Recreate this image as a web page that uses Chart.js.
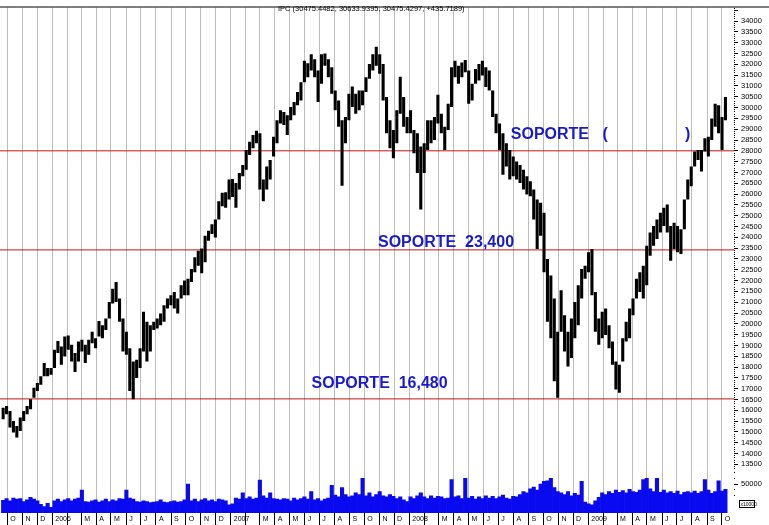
<!DOCTYPE html>
<html>
<head>
<meta charset="utf-8">
<script src="https://cdn.jsdelivr.net/npm/chart.js@4.4.1/dist/chart.umd.min.js"></script>
<style>
  html, body { margin: 0; padding: 0; background: #fff; }
  canvas { display: block; }
</style>
</head>
<body>
<canvas id="ipcChart" width="769" height="525"></canvas>
<script>
// weekly ranges of the IPC, week 0 = week of 19 Sep 2005
const weekHigh = [
  16120, 16200, 15970, 15510, 15280, 15670, 15970, 16200, 16510, 17040,
  17270, 17580, 18190, 17960, 17960, 18800, 19210, 18950, 19410, 19460,
  19030, 18650, 19180, 19260, 19030, 19260, 19640, 19330, 20130, 19940,
  20250, 21010, 21620, 21930, 21170, 20250, 19640, 18870, 18260, 18340,
  18870, 20560, 20100, 19940, 20100, 20250, 20480, 20860, 21170, 21320,
  21470, 21170, 21780, 22010, 22080, 22540, 23080, 23380, 23490, 24070,
  24300, 24600, 24830, 25670, 26060, 26090, 26670, 26700, 26510, 26970,
  27350, 28040, 28420, 28730, 28930, 28810, 26670, 27280, 27580, 28650,
  29420, 29880, 29800, 29650, 30030, 30260, 30720, 31170, 32170, 32050,
  32470, 32240, 31710, 32470, 32500, 32240, 31860, 30790, 30330, 29420,
  29570, 30640, 30980, 30640, 30790, 30790, 31400, 32020, 32470, 32810,
  32470, 32020, 30490, 29420, 28960, 29880, 31430, 30490, 29570, 29880,
  28960, 28810, 28200, 28350, 29420, 29420, 29570, 30590, 29720, 29110,
  30180, 31860, 32170, 31940, 32090, 32200, 31710, 31100, 31790, 32020,
  32170, 31860, 31710, 30790, 29720, 29260, 28810, 28350, 28040, 27740,
  27510, 27350, 27130, 26820, 26590, 26210, 25750, 25600, 25140, 23000,
  22240, 21170, 19640, 21550, 20400, 19640, 20250, 21010, 21780, 22540,
  22690, 23310, 23460, 21470, 20250, 20560, 20710, 19940, 19180, 18260,
  18110, 19330, 20100, 20710, 21170, 22080, 22390, 22690, 23610, 24220,
  24530, 24830, 25140, 25370, 25520, 24530, 24680, 24530, 24380, 25750,
  26670, 27280, 27970, 28040, 28040, 28580, 28650, 29490, 30180, 30110,
  29570, 30490
];
const weekLow = [
  15590, 15820, 15210, 14980, 14750, 15050, 15510, 15820, 16050, 16580,
  16890, 17190, 17580, 17580, 17650, 17960, 18650, 18110, 18490, 18800,
  18260, 17770, 18260, 18720, 18190, 18570, 19100, 18870, 19410, 19330,
  19720, 20250, 20940, 21010, 20100, 18720, 18570, 16890, 16510, 17500,
  17960, 18720, 18260, 18720, 19720, 19790, 19940, 20100, 20710, 20860,
  20710, 20480, 21170, 21320, 21320, 21930, 22390, 22690, 22340, 22850,
  23840, 24150, 23990, 24830, 25440, 25370, 25750, 25870, 25370, 26210,
  26820, 27130, 27810, 28120, 28350, 26210, 25670, 26210, 26670, 27740,
  28350, 29260, 29190, 28730, 29420, 29650, 30110, 30330, 31170, 31400,
  31710, 31400, 30260, 31100, 31940, 31400, 30640, 29880, 29110, 26390,
  28350, 29420, 30030, 29720, 29880, 30110, 30720, 31330, 31710, 31940,
  31560, 30330, 28810, 28120, 27660, 28350, 29720, 29110, 28810, 28810,
  27890, 26970, 25290, 26970, 28040, 28350, 28500, 29260, 28810, 28040,
  28960, 30030, 31400, 31100, 31400, 31630, 30180, 30330, 31100, 31250,
  31480, 30950, 30790, 29570, 28810, 28040, 26900, 27280, 26670, 26820,
  26670, 26510, 26210, 25980, 25900, 24830, 23460, 24070, 22390, 20100,
  19330, 17350, 16580, 19640, 18720, 18030, 18420, 19330, 19940, 21170,
  22080, 22390, 21320, 19640, 19030, 19330, 19490, 18870, 18110, 16960,
  16810, 18260, 19180, 19330, 20400, 21170, 21470, 21170, 21780, 23150,
  23610, 23920, 24220, 24530, 24220, 22920, 23460, 23310, 23230, 24380,
  25750, 26360, 27280, 27580, 27050, 27970, 27740, 28500, 29110, 28810,
  28040, 29420
];
// volume, units of 10000
const weekVolume = [
  22000, 25000, 21000, 26000, 24000, 25000, 20000, 23000, 27000, 24000, 21000,
  15000, 11000, 17000, 10000,
  21000, 24000, 20000, 23000, 25000, 21000, 24000, 26000, 40000,
  20000, 19000, 21000, 23000, 19000, 21000, 24000, 20000, 23000, 21000, 25000, 24000, 40000,
  26000, 24000, 20000, 19000, 21000, 20000, 18000, 19000, 20000, 23000, 19000, 18000, 20000, 21000, 19000, 20000, 23000, 50000,
  21000, 24000, 20000, 23000, 25000, 21000, 23000, 20000, 24000, 23000, 21000, 14000, 16000, 26000, 24000, 35000,
  25000, 28000, 24000, 26000, 57000, 30000, 26000, 35000, 25000, 24000,
  23000, 25000, 24000, 21000, 26000, 23000, 25000, 28000, 24000, 37000, 23000, 25000, 21000, 24000, 26000,
  48000, 31000, 28000, 44000, 32000, 28000, 30000, 35000, 32000, 60000,
  30000, 35000, 28000, 32000, 37000, 30000, 28000, 32000, 29000, 25000, 28000, 23000, 20000,
  28000, 25000, 30000, 35000, 28000, 25000, 30000, 26000, 29000, 28000, 25000, 26000, 58000,
  28000, 30000, 25000, 60000, 26000, 29000, 24000, 28000, 25000, 30000, 26000, 29000, 25000,
  28000, 31000, 26000, 24000, 29000, 28000,
  32000, 37000, 35000, 42000, 45000, 40000, 50000, 55000, 56000, 60000,
  44000, 37000, 35000, 32000, 37000, 30000, 34000, 31000, 55000,
  19000, 16000, 14000, 21000, 27000,
  35000, 32000, 37000, 34000, 40000, 36000, 39000, 35000, 41000, 37000, 36000, 40000, 58000,
  60000, 42000, 37000, 60000, 36000, 40000, 35000, 37000, 34000, 38000, 32000, 36000, 37000,
  35000, 38000, 34000, 37000, 58000, 40000, 34000, 37000, 56000, 38000, 41000
];
const monthLabels = [
  'O', 'N', 'D',
  '2006', '', 'M', 'A', 'M', 'J', 'J', 'A', 'S', 'O', 'N', 'D',
  '2007', '', 'M', 'A', 'M', 'J', 'J', 'A', 'S', 'O', 'N', 'D',
  '2008', '', 'M', 'A', 'M', 'J', 'J', 'A', 'S', 'O', 'N', 'D',
  '2009', '', 'M', 'A', 'M', 'J', 'J', 'A', 'S', 'O'
];
const supportLevels = [28000, 23420, 16530];
const titleText = 'IPC (30475.4482, 30633.9395, 30475.4297, +435.7189)';
const notes = [
  { text: 'SOPORTE   (', week: 148.8, price: 28530 },
  { text: ')', week: 199.7, price: 28530 },
  { text: 'SOPORTE  23,400', week: 110.0, price: 23570 },
  { text: 'SOPORTE  16,480', week: 90.6, price: 17040 }
];

const X_MIN = -0.418, X_MAX = 214.0;
const WEEK_MS = 7 * 864e5;
const firstWeek = Date.UTC(2005, 8, 19);
const monthTicks = monthLabels.map((_, k) => (Date.UTC(2005, 9 + k, 1) - firstWeek) / WEEK_MS);

const FONT = 'Arial, "Liberation Sans", sans-serif';
Chart.defaults.font.family = FONT;
Chart.defaults.color = '#000';

const decorations = {
  id: 'decorations',
  afterDraw(chart) {
    const { ctx, chartArea, scales } = chart;
    ctx.save();
    ctx.strokeStyle = '#000';
    ctx.lineWidth = 1;
    ctx.beginPath();
    ctx.moveTo(0, chartArea.top - 0.5);
    ctx.lineTo(chart.width, chartArea.top - 0.5);
    ctx.stroke();

    ctx.fillStyle = '#000';
    ctx.font = '7.5px ' + FONT;
    ctx.textBaseline = 'middle';
    ctx.fillText(titleText, 278, 9);

    ctx.font = 'bold 16px ' + FONT;
    ctx.fillStyle = '#1a1acd';
    ctx.textBaseline = 'alphabetic';
    notes.forEach(n => {
      ctx.fillText(n.text, scales.x.getPixelForValue(n.week), scales.y.getPixelForValue(n.price));
    });

    // volume multiplier box
    ctx.strokeStyle = '#000';
    ctx.strokeRect(739.5, 500.5, 15, 7);
    ctx.fillStyle = '#000';
    ctx.font = '5px ' + FONT;
    ctx.textBaseline = 'middle';
    ctx.fillText('x10000', 740.5, 504.2);
    ctx.restore();
  }
};

const minorDash = (major) => (c) => (c.tick && c.tick.value % major === 0) ? [] : [1, 10];

new Chart(document.getElementById('ipcChart'), {
  type: 'bar',
  data: {
    datasets: [
      {
        type: 'bar',
        label: 'IPC',
        data: weekHigh.map((h, i) => ({ x: i + 0.5, y: [weekLow[i], h] })),
        backgroundColor: '#000',
        yAxisID: 'y',
        grouped: false,
        barPercentage: 0.9,
        categoryPercentage: 1,
        order: 1
      },
      {
        type: 'bar',
        label: 'Volumen',
        data: weekVolume.map((v, i) => ({ x: i + 0.5, y: v })),
        backgroundColor: '#0a0af0',
        yAxisID: 'yv',
        grouped: false,
        barPercentage: 1,
        categoryPercentage: 1,
        order: 1
      },
      ...supportLevels.map(level => ({
        type: 'line',
        label: 'Soporte ' + level,
        data: [{ x: X_MIN, y: level }, { x: X_MAX, y: level }],
        borderColor: '#c81414',
        borderWidth: 1,
        pointRadius: 0,
        yAxisID: 'y',
        order: 2
      }))
    ]
  },
  options: {
    responsive: false,
    animation: false,
    devicePixelRatio: 1,
    layout: { padding: { top: 3, left: 0, right: 0, bottom: 0 } },
    plugins: { legend: { display: false }, tooltip: { enabled: false } },
    scales: {
      x: {
        type: 'linear',
        position: 'bottom',
        min: X_MIN,
        max: X_MAX,
        offset: false,
        afterBuildTicks: s => { s.ticks = monthTicks.map(v => ({ value: v })); },
        afterFit: s => { s.height = 12; },
        ticks: {
          autoSkip: false,
          maxRotation: 0,
          minRotation: 0,
          align: 'start',
          padding: -10,
          labelOffset: 3,
          font: { size: 7 },
          callback: (v, i) => monthLabels[i]
        },
        grid: { color: '#bdbdbd', tickColor: '#000', tickLength: 12, offset: false },
        border: { display: false }
      },
      y: {
        position: 'right',
        stack: 'panes',
        stackWeight: 467,
        min: 13225,
        max: 34628,
        afterBuildTicks: s => {
          const t = [];
          for (let v = 13300; v <= 34600; v += 100) t.push({ value: v });
          s.ticks = t;
        },
        afterFit: s => { s.width = 35; },
        ticks: {
          autoSkip: false,
          padding: 3,
          font: { size: 7.5 },
          callback: v => (v % 500 === 0 && v <= 34000 ? String(v) : '')
        },
        grid: { drawOnChartArea: false, tickLength: 4, tickColor: '#000', tickBorderDash: minorDash(500) },
        border: { display: false }
      },
      yv: {
        position: 'right',
        stack: 'panes',
        stackWeight: 43,
        min: 0,
        max: 74000,
        afterBuildTicks: s => {
          const t = [];
          for (let v = 30000; v <= 70000; v += 10000) t.push({ value: v });
          s.ticks = t;
        },
        afterFit: s => { s.width = 35; },
        ticks: {
          autoSkip: false,
          padding: 3,
          font: { size: 7.5 },
          callback: v => (v === 50000 ? '50000' : '')
        },
        grid: { drawOnChartArea: false, tickLength: 4, tickColor: '#000', tickBorderDash: minorDash(50000) },
        border: { display: false }
      }
    }
  },
  plugins: [decorations]
});
</script>
</body>
</html>
